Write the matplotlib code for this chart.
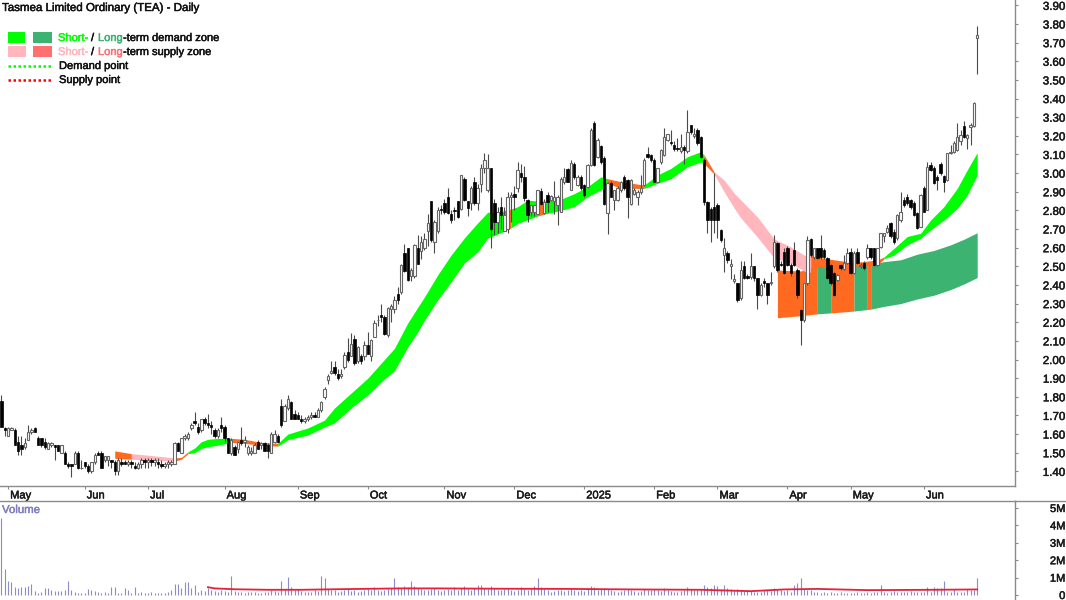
import numpy as np
import matplotlib
matplotlib.use('Agg')
import matplotlib.pyplot as plt
import matplotlib.patheffects as pe
from matplotlib.patches import Rectangle
from matplotlib.transforms import ScaledTranslation

plt.rcParams['font.family'] = ['Liberation Sans', 'DejaVu Sans']

# daily candles
open_ = [1.78,1.63,1.59,1.62,1.62,1.56,1.54,1.53,1.57,1.61,
         1.63,1.58,1.58,1.56,1.52,1.54,1.54,1.54,1.50,1.50,
         1.44,1.44,1.44,1.50,1.42,1.45,1.43,1.40,1.45,1.50,
         1.50,1.46,1.46,1.46,1.45,1.40,1.45,1.45,1.44,1.45,
         1.43,1.42,1.44,1.46,1.45,1.46,1.45,1.45,1.44,1.43,
         1.44,1.44,1.44,1.55,1.50,1.58,1.58,1.63,1.67,1.64,
         1.62,1.68,1.66,1.65,1.62,1.59,1.65,1.64,1.58,1.50,
         1.53,1.52,1.57,1.56,1.50,1.50,1.50,1.56,1.54,1.55,
         1.54,1.50,1.56,1.59,1.75,1.67,1.74,1.77,1.71,1.70,
         1.68,1.67,1.68,1.69,1.70,1.69,1.73,1.80,1.89,1.93,
         1.96,1.925,1.91,1.96,2.04,2.02,2.11,1.99,2.02,2.02,
         2.08,2.02,2.12,2.21,2.24,2.23,2.13,2.27,2.27,2.35,
         2.36,2.57,2.60,2.45,2.45,2.60,2.58,2.60,2.69,2.85,
         2.63,2.69,2.81,2.84,2.87,2.78,2.80,2.85,2.81,2.97,
         2.85,2.84,2.95,2.84,2.94,3.03,2.91,3.03,2.84,2.74,
         2.82,2.69,2.70,2.87,2.886,2.92,3.00,2.98,2.856,2.79,
         2.79,2.78,2.905,2.785,2.88,2.855,2.85,2.83,2.79,2.95,
         3.02,2.91,3.05,2.935,2.98,2.936,2.923,3.043,3.27,3.088,
         3.145,3.08,2.784,2.945,2.855,2.855,2.909,2.98,2.963,2.837,
         2.89,2.873,2.90,2.936,3.10,3.097,3.07,2.954,3.06,3.097,
         3.18,3.168,3.15,3.135,3.12,3.142,3.12,3.258,3.20,3.23,
         3.195,3.07,2.847,2.81,2.82,2.83,2.694,2.56,2.57,2.50,
         2.42,2.408,2.328,2.50,2.45,2.444,2.50,2.435,2.346,2.42,
         2.408,2.408,2.50,2.623,2.51,2.578,2.596,2.507,2.587,2.48,
         2.265,2.21,2.408,2.644,2.55,2.596,2.596,2.59,2.543,2.507,
         2.466,2.426,2.507,2.484,2.516,2.578,2.462,2.578,2.50,2.516,
         2.552,2.596,2.596,2.507,2.605,2.66,2.686,2.73,2.686,2.65,
         2.748,2.856,2.873,2.856,2.838,2.784,2.713,2.918,2.802,3.044,
         3.026,2.98,3.05,2.985,2.963,3.106,3.115,3.124,3.17,3.253,
         3.19,3.25,3.253,3.723]
high = [1.81,1.64,1.64,1.64,1.63,1.59,1.59,1.58,1.65,1.63,
        1.64,1.59,1.58,1.58,1.56,1.56,1.54,1.54,1.54,1.51,
        1.45,1.44,1.51,1.51,1.46,1.45,1.44,1.45,1.50,1.51,
        1.51,1.48,1.48,1.46,1.46,1.47,1.47,1.46,1.46,1.46,
        1.45,1.45,1.47,1.47,1.47,1.47,1.47,1.47,1.46,1.45,
        1.46,1.46,1.56,1.56,1.58,1.60,1.61,1.66,1.72,1.66,
        1.68,1.69,1.71,1.67,1.63,1.63,1.69,1.65,1.58,1.58,
        1.54,1.56,1.64,1.59,1.54,1.53,1.55,1.57,1.56,1.56,
        1.55,1.61,1.62,1.60,1.79,1.76,1.81,1.78,1.73,1.72,
        1.70,1.69,1.70,1.72,1.72,1.74,1.78,1.85,1.92,1.99,
        1.99,1.95,1.95,2.04,2.115,2.14,2.13,2.07,2.03,2.10,
        2.15,2.11,2.21,2.24,2.30,2.24,2.28,2.30,2.34,2.39,
        2.51,2.62,2.60,2.49,2.62,2.67,2.66,2.68,2.78,2.85,
        2.75,2.82,2.83,2.86,2.92,2.80,2.82,2.85,2.99,2.98,
        2.85,2.93,2.98,2.94,3.05,3.11,3.10,3.03,2.86,2.82,
        2.87,2.82,2.90,2.90,2.93,3.06,3.05,3.04,2.86,2.83,
        2.82,2.91,2.92,2.86,2.90,2.88,2.96,2.88,2.98,3.03,
        3.03,3.07,3.06,2.99,2.99,2.94,3.05,3.24,3.28,3.19,
        3.15,3.09,2.95,2.96,2.91,2.93,2.96,2.99,2.97,2.97,
        2.92,2.91,2.99,3.08,3.14,3.10,3.08,3.03,3.13,3.24,
        3.21,3.23,3.17,3.19,3.21,3.15,3.34,3.26,3.24,3.24,
        3.20,3.08,2.85,2.82,3.00,2.84,2.70,2.65,2.58,2.54,
        2.46,2.41,2.53,2.53,2.46,2.57,2.50,2.44,2.41,2.44,
        2.41,2.47,2.67,2.63,2.53,2.60,2.61,2.52,2.63,2.49,
        2.27,2.41,2.66,2.65,2.60,2.60,2.67,2.60,2.55,2.51,
        2.47,2.46,2.51,2.56,2.60,2.60,2.58,2.60,2.52,2.53,
        2.62,2.60,2.60,2.60,2.68,2.68,2.72,2.74,2.70,2.78,
        2.90,2.87,2.89,2.86,2.85,2.79,2.89,2.93,3.06,3.06,
        3.04,2.99,3.06,2.99,3.11,3.15,3.17,3.27,3.23,3.28,
        3.21,3.27,3.38,3.79]
low = [1.64,1.59,1.59,1.62,1.54,1.49,1.49,1.52,1.57,1.60,
       1.61,1.54,1.53,1.52,1.52,1.53,1.46,1.51,1.50,1.44,
       1.42,1.37,1.44,1.41,1.41,1.42,1.39,1.39,1.44,1.49,
       1.42,1.45,1.43,1.42,1.38,1.38,1.43,1.44,1.43,1.42,
       1.41,1.41,1.42,1.42,1.42,1.43,1.43,1.42,1.42,1.42,
       1.42,1.43,1.44,1.51,1.50,1.57,1.57,1.62,1.65,1.60,
       1.61,1.65,1.63,1.60,1.58,1.58,1.61,1.56,1.50,1.49,
       1.49,1.50,1.54,1.53,1.49,1.49,1.50,1.52,1.52,1.51,
       1.47,1.50,1.55,1.55,1.64,1.67,1.73,1.68,1.68,1.68,
       1.66,1.66,1.67,1.68,1.69,1.69,1.72,1.79,1.87,1.92,
       1.915,1.89,1.90,1.95,1.985,2.02,1.97,1.98,1.975,2.00,
       2.03,1.99,2.12,2.18,2.20,2.13,2.12,2.20,2.25,2.30,
       2.35,2.47,2.42,2.42,2.44,2.51,2.54,2.59,2.61,2.63,
       2.57,2.68,2.78,2.78,2.78,2.73,2.75,2.76,2.80,2.85,
       2.77,2.80,2.83,2.80,2.90,3.00,2.90,2.60,2.67,2.68,
       2.70,2.69,2.68,2.74,2.80,2.90,2.95,2.85,2.74,2.77,
       2.77,2.78,2.83,2.78,2.79,2.85,2.78,2.72,2.79,2.94,
       2.95,2.91,2.97,2.93,2.91,2.87,2.92,3.04,3.04,3.08,
       3.05,2.83,2.676,2.87,2.80,2.85,2.90,2.91,2.757,2.83,
       2.88,2.83,2.89,2.93,3.08,3.06,2.95,2.95,3.05,3.09,
       3.17,3.15,3.12,3.12,3.11,3.05,3.11,3.21,3.19,3.15,
       3.08,2.83,2.68,2.63,2.68,2.65,2.63,2.47,2.52,2.43,
       2.41,2.31,2.32,2.43,2.43,2.43,2.42,2.27,2.34,2.39,
       2.30,2.40,2.49,2.47,2.50,2.46,2.50,2.45,2.50,2.33,
       2.08,2.20,2.40,2.55,2.54,2.54,2.54,2.54,2.43,2.40,
       2.34,2.42,2.48,2.48,2.51,2.46,2.46,2.51,2.49,2.48,
       2.54,2.54,2.50,2.50,2.60,2.63,2.68,2.65,2.62,2.64,
       2.74,2.82,2.83,2.81,2.77,2.70,2.71,2.79,2.80,3.01,
       2.94,2.91,2.99,2.90,2.96,3.10,3.11,3.12,3.15,3.19,
       3.13,3.15,3.25,3.53]
close = [1.64,1.62,1.63,1.63,1.54,1.51,1.52,1.55,1.61,1.62,
         1.61,1.54,1.54,1.53,1.55,1.55,1.53,1.51,1.54,1.44,
         1.43,1.43,1.50,1.42,1.42,1.43,1.40,1.45,1.49,1.49,
         1.42,1.48,1.48,1.45,1.40,1.46,1.44,1.44,1.45,1.44,
         1.42,1.44,1.46,1.45,1.46,1.45,1.46,1.44,1.43,1.44,
         1.45,1.45,1.55,1.51,1.58,1.59,1.60,1.65,1.66,1.61,
         1.68,1.66,1.65,1.64,1.59,1.62,1.63,1.58,1.50,1.57,
         1.49,1.56,1.55,1.57,1.53,1.51,1.54,1.52,1.55,1.51,
         1.51,1.60,1.60,1.56,1.65,1.75,1.79,1.68,1.68,1.68,
         1.67,1.68,1.69,1.70,1.69,1.73,1.77,1.84,1.91,1.94,
         1.93,1.90,1.925,2.025,2.00,2.085,1.98,2.065,1.99,2.08,
         2.03,2.105,2.194,2.21,2.23,2.137,2.275,2.285,2.32,2.32,
         2.507,2.477,2.427,2.48,2.614,2.513,2.632,2.645,2.734,2.641,
         2.74,2.80,2.80,2.79,2.785,2.75,2.795,2.763,2.99,2.856,
         2.811,2.919,2.838,2.919,3.026,3.07,3.03,2.70,2.74,2.79,
         2.776,2.776,2.87,2.88,2.87,3.016,2.98,2.864,2.775,2.83,
         2.83,2.91,2.834,2.846,2.846,2.875,2.87,2.87,2.97,2.98,
         2.954,3.055,2.98,2.98,2.918,2.882,3.043,3.23,3.043,3.177,
         3.06,2.837,2.945,2.873,2.909,2.918,2.954,2.918,2.873,2.963,
         2.91,2.90,2.92,3.07,3.087,3.07,2.954,3.025,3.124,3.195,
         3.21,3.16,3.13,3.13,3.14,3.124,3.22,3.22,3.21,3.16,
         3.088,2.847,2.748,2.748,2.748,2.75,2.64,2.596,2.534,2.51,
         2.43,2.32,2.48,2.435,2.435,2.50,2.435,2.346,2.40,2.41,
         2.346,2.417,2.632,2.48,2.505,2.462,2.507,2.462,2.507,2.346,
         2.21,2.408,2.64,2.56,2.596,2.543,2.55,2.55,2.435,2.408,
         2.346,2.453,2.49,2.516,2.57,2.462,2.57,2.516,2.505,2.49,
         2.596,2.55,2.507,2.596,2.677,2.68,2.707,2.66,2.632,2.775,
         2.793,2.83,2.838,2.82,2.775,2.704,2.882,2.793,3.035,3.017,
         2.945,2.963,2.999,2.954,3.106,3.115,3.16,3.196,3.205,3.196,
         3.205,3.26,3.375,3.74]

# volume in millions
volume = [4.4,1.48,.8,.77,.44,.38,.44,.44,.52,.63,
          .25,.1,.19,.38,.38,.29,.25,.25,.25,.29,
          .82,.29,.17,.13,.1,.1,.33,.29,.25,.17,
          .1,.17,.1,.44,.48,.13,.1,.38,.29,.1,
          .48,.1,.17,.1,.1,.17,.1,.1,.13,.1,
          .17,.29,.63,.63,.38,.77,.77,.38,.57,.19,
          .29,.25,.38,.3,.25,.2,.3,.25,.2,1.09,
          .25,.2,.15,.1,.2,.15,.2,.1,.1,.15,
          .2,.3,.25,.2,.8,.3,1.05,.45,.3,.35,
          .25,.2,.15,.2,.3,.25,1.1,.95,.35,.3,
          .3,.2,.25,.3,.35,.25,.3,.2,.25,.3,
          .35,.3,.45,.3,.25,.3,.35,.4,1.0,.45,
          .4,.5,.45,.8,.5,.4,.35,.3,.3,.35,
          .4,.3,.25,.3,.35,.3,.45,.3,.4,.5,
          .35,.3,.4,.55,.6,.4,.35,.5,.4,.3,
          .3,.35,.4,.3,.25,.3,.45,.35,.3,.35,
          .5,1.0,.45,.35,.3,.2,.25,.3,.3,.25,
          .3,.35,.3,.25,.3,.25,.4,.5,.45,.3,
          .35,.4,.35,.3,.25,.2,.25,.3,.35,.3,
          .25,.2,.25,.35,.3,.3,.35,.3,.25,.4,
          .3,.25,.2,.2,.25,.3,.45,.35,.3,.3,
          .35,.55,.45,.4,.6,.5,.35,.55,.4,.35,
          .3,.35,.3,.25,.3,.25,.2,.15,.2,.3,
          .3,.25,.4,.35,.3,.25,.3,.2,.55,.7,
          1.0,.35,.3,.3,.15,.2,.1,.15,.1,.15,
          .12,.1,.15,.1,.1,.12,.1,.15,.1,.12,
          .15,.1,.2,.15,.55,.2,.1,.15,.25,.15,
          .2,.15,.2,.25,.15,.2,.2,.15,.45,.2,
          .45,.4,.4,.8,.2,.15,.35,.15,.15,.2,
          .35,.3,.3,1.0]
vol_ma_idx = [62,64,70,80,90,100,120,130,150,170,190,210,225,235,245,260,280,293]
vol_ma = [.45,.38,.33,.3,.3,.33,.38,.38,.36,.35,.32,.3,.22,.32,.35,.28,.3,.32]

# short-term zone
st_idx = [34,39,45,52,54,56,58,60,62,65,69,73,78,83,86,92,97,100,105,110,114,118,122,125,127,
          131,135,139,143,146,150,151,153,155,158,161,163,168,172,176,180,182,186,193,197,201,206,210,211,214,
          217,220,222,227,232,237,242,243,245,250,256,263,265,268,272,276,279,283,287,290,293]
st_top = [1.51,1.495,1.485,1.472,1.475,1.505,1.525,1.559,1.572,1.577,1.577,1.572,1.555,1.55,1.60,1.633,1.675,1.74,1.82,1.90,1.98,2.06,2.196,2.28,2.335,
          2.454,2.56,2.652,2.733,2.79,2.79,2.80,2.807,2.82,2.855,2.85,2.85,2.86,2.89,2.927,2.98,2.97,2.954,2.936,2.99,3.025,3.088,3.115,3.097,3.006,
          2.963,2.893,2.856,2.765,2.647,2.604,2.55,2.56,2.55,2.535,2.52,2.534,2.55,2.596,2.66,2.677,2.748,2.82,2.918,3.017,3.11]
st_bot = [1.47,1.465,1.46,1.455,1.465,1.495,1.50,1.523,1.532,1.541,1.555,1.55,1.54,1.535,1.57,1.595,1.638,1.66,1.74,1.81,1.88,1.94,2.067,2.148,2.21,
          2.32,2.416,2.518,2.577,2.652,2.68,2.69,2.706,2.73,2.75,2.77,2.78,2.80,2.82,2.873,2.91,2.945,2.918,2.918,2.945,2.97,3.034,3.06,3.05,2.995,
          2.90,2.813,2.76,2.657,2.545,2.518,2.464,2.47,2.50,2.49,2.50,2.507,2.54,2.56,2.615,2.65,2.695,2.748,2.81,2.882,2.99]
st_breaks = [34,39,52,56,69,83,151,153,161,163,182,193,211,214,243,265,293]
st_kinds = ['o','p','o','g','o','g','o','g','o','g','o','g','o','p','o','g']

# long-term zone
lt_idx = [233,240,245,249,256,260,261,265,270,275,280,285,289,293]
lt_top = [2.48,2.475,2.505,2.505,2.505,2.51,2.51,2.525,2.535,2.565,2.585,2.615,2.645,2.68]
lt_bot = [2.224,2.235,2.245,2.25,2.26,2.268,2.27,2.285,2.30,2.325,2.345,2.375,2.405,2.44]
lt_breaks = [233,245,249,256,260,261,293]
lt_kinds = ['o','g','o','g','o','g']

month_idx = [2,25,44,67,89,110,133,154,175,196,215,236,255,277]
month_labels = ['May','Jun','Jul','Aug','Sep','Oct','Nov','Dec','2025','Feb','Mar','Apr','May','Jun']
price_ticks = [1.4,1.5,1.6,1.7,1.8,1.9,2.0,2.1,2.2,2.3,2.4,2.5,2.6,2.7,2.8,2.9,3.0,3.1,3.2,3.3,3.4,3.5,3.6,3.7,3.8,3.9]
vol_ticks = [0,1,2,3,4,5]
vol_labels = ['0','1M','2M','3M','4M','5M']

W, H = 1066, 600
GREY = '#8a8a8a'
TXT = '#1a1a1a'
st_cols = {'o': '#ff6a20', 'p': '#ffb6bc', 'g': '#00ff00'}
lt_cols = {'o': '#ff6a20', 'g': '#3cb371'}

fig = plt.figure(figsize=(W/100, H/100), dpi=100)
ax = fig.add_axes([0, 1-486/H, 1015/W, 486/H])
axv = fig.add_axes([0, 0, 1015/W, 99/H])

idx = np.arange(len(close))
op = np.array(open_)
hi = np.array(high)
lo = np.array(low)
cl = np.array(close)

def heavy(t, color):
    t.set_path_effects([pe.withStroke(linewidth=0.35, foreground=color)])

def zones(a, xs, top, bot, breaks, kinds, cols, z):
    xs = np.array(xs)
    for i, k in enumerate(kinds):
        m = (xs >= breaks[i]) & (xs <= breaks[i+1])
        a.fill_between(xs, top, bot, where=m, color=cols[k], lw=0, zorder=z)

zones(ax, lt_idx, lt_top, lt_bot, lt_breaks, lt_kinds, lt_cols, 1)
zones(ax, st_idx, st_top, st_bot, st_breaks, st_kinds, st_cols, 2)

ax.vlines(idx, lo, hi, color='#4a4a4a', lw=0.8, zorder=3)
up = cl >= op
ax.bar(idx[up], (cl-op)[up], bottom=op[up], width=0.72, facecolor='white', edgecolor='#666666', lw=0.8, zorder=4)
ax.bar(idx[~up], (op-cl)[~up], bottom=cl[~up], width=0.72, facecolor='black', edgecolor='black', lw=0.5, zorder=4)

xlim = (-0.45, 304.35)
ax.set_xlim(xlim)
ax.set_ylim(3.8-(486-24)/186.4, 3.8+24/186.4)
ax.yaxis.tick_right()
ax.set_yticks(price_ticks)
ax.set_yticklabels(['%.2f' % p for p in price_ticks], ha='right', fontsize=8.3, color=TXT)
ax.tick_params(axis='y', length=2.2, width=0.8, color=GREY, pad=34)
ax.set_xticks(month_idx)
ax.set_xticklabels(month_labels, ha='left', fontsize=8.0, color=TXT)
ax.tick_params(axis='x', length=2.2, width=0.8, color=GREY, pad=1, direction='out')
shift = ScaledTranslation(2/100, 0, fig.dpi_scale_trans)
for lab in ax.get_xticklabels():
    lab.set_transform(lab.get_transform() + shift)
    heavy(lab, TXT)
for lab in ax.get_yticklabels():
    heavy(lab, TXT)
for s in ['top', 'left']:
    ax.spines[s].set_visible(False)
for s in ['bottom', 'right']:
    ax.spines[s].set_color(GREY)
    ax.spines[s].set_linewidth(1.0)

axv.vlines(idx, 0, volume, color='#8c8cc8', lw=0.8, zorder=2)
axv.plot(vol_ma_idx, vol_ma, color='#e8203c', lw=1.3, zorder=3)
axv.set_xlim(xlim)
axv.set_ylim(-5/17.4, 94/17.4)
axv.yaxis.tick_right()
axv.set_yticks(vol_ticks)
axv.set_yticklabels(vol_labels, ha='right', fontsize=8.0, color=TXT)
axv.tick_params(axis='y', length=2.2, width=0.8, color=GREY, pad=34)
axv.set_xticks([])
for lab in axv.get_yticklabels():
    heavy(lab, TXT)
for s in ['left', 'bottom']:
    axv.spines[s].set_visible(False)
for s in ['top', 'right']:
    axv.spines[s].set_color(GREY)
    axv.spines[s].set_linewidth(1.0)
t = axv.text(2/1015, 1-9/99, 'Volume', transform=axv.transAxes, color='#8080c0', fontsize=8.2, va='center')
heavy(t, '#8080c0')

# line across the date band to the figure edge
fig.add_artist(plt.Line2D([1015/W, 1], [99/H, 99/H], color=GREY, lw=1.0))

def ptext(x, y, s, color='#111111', size=8.0):
    t = fig.text(x/W, 1-y/H, s, color=color, fontsize=size, va='center', ha='left')
    heavy(t, color)

def swatch(x0, x1, y0, y1, color):
    fig.add_artist(Rectangle((x0/W, 1-y1/H), (x1-x0)/W, (y1-y0)/H, transform=fig.transFigure, color=color, lw=0))

ptext(2, 8, 'Tasmea Limited Ordinary (TEA) - Daily', size=8.3)
swatch(8, 25, 32, 43, '#00ff00')
swatch(33, 52, 32, 43, '#3cb371')
swatch(8, 26, 46, 57, '#ffb6bc')
swatch(33, 52, 46, 57, '#ff7070')
ptext(58, 38, 'Short-', '#00ff00')
ptext(91, 38, '/')
ptext(98, 38, 'Long', '#3cb371')
ptext(123, 38, '-term demand zone')
ptext(58, 52, 'Short-', '#ffb6bc')
ptext(91, 52, '/')
ptext(98, 52, 'Long', '#ff7070')
ptext(123, 52, '-term supply zone')
ptext(59, 66, 'Demand point')
ptext(59, 80, 'Supply point')
fig.add_artist(plt.Line2D([8/W, 52/W], [1-66/H, 1-66/H], color='#00ff00', lw=1.8, ls=(0, (1, 1))))
fig.add_artist(plt.Line2D([8/W, 52/W], [1-79.5/H, 1-79.5/H], color='#ff0000', lw=1.8, ls=(0, (1, 1))))

fig.savefig('out.png', dpi=100, facecolor='white')
